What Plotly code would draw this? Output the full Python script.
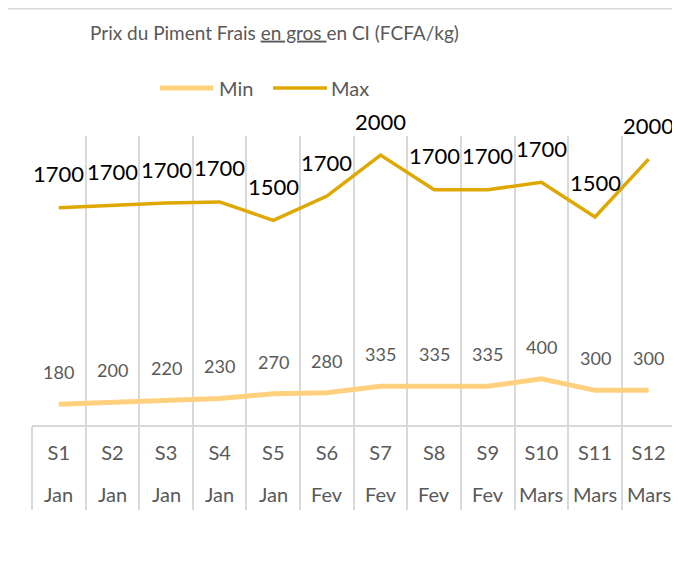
import plotly.graph_objects as go

# Données : prix du piment frais en gros (FCFA/kg), par semaine
semaines = ["S1", "S2", "S3", "S4", "S5", "S6", "S7", "S8", "S9", "S10", "S11", "S12"]
mois = ["Jan", "Jan", "Jan", "Jan", "Jan", "Fev", "Fev", "Fev", "Fev", "Mars", "Mars", "Mars"]
prix_min = [180, 200, 220, 230, 270, 280, 335, 335, 335, 400, 300, 300]
prix_max = [1700, 1700, 1700, 1700, 1500, 1700, 2000, 1700, 1700, 1700, 1500, 2000]

couleur_min = "#FFD17F"
couleur_max = "#DFA800"
gris_texte = "#595959"
gris_ligne = "#D9D9D9"
police = "Lato"

# La page HTML ajoute une marge de 8 px autour de la figure
W, H = 672, 561
L, R, T, B = 24, 4, 128, 144
PW, PH = W - L - R, H - T - B


def px_x(px):
    # pixel horizontal de la figure -> coordonnée "paper"
    return (px - L) / PW


def px_y(py):
    # pixel vertical de la figure -> coordonnée "paper"
    return 1 + (T - py) / PH


x = list(range(1, len(semaines) + 1))

fig = go.Figure()

# Courbes empilées (comme le graphique Excel d'origine)
fig.add_trace(
    go.Scatter(
        x=x, y=prix_min, name="Min", mode="lines",
        stackgroup="prix", fill="none",
        line=dict(color=couleur_min, width=5),
    )
)
fig.add_trace(
    go.Scatter(
        x=x, y=prix_max, name="Max", mode="lines",
        stackgroup="prix", fill="none",
        line=dict(color=couleur_max, width=3.5),
    )
)

# Étiquettes de données
cumul = [a + b for a, b in zip(prix_min, prix_max)]
for xi, v, c in zip(x, prix_max, cumul):
    fig.add_annotation(
        x=xi, y=c, text=str(v), showarrow=False, yshift=34, yanchor="middle",
        font=dict(size=22, color="black", family=police),
    )
for xi, v in zip(x, prix_min):
    fig.add_annotation(
        x=xi, y=v, text=str(v), showarrow=False, yshift=32, yanchor="middle",
        font=dict(size=18, color=gris_texte, family=police),
    )

# Deuxième niveau de l'axe : les mois
for xi, m in zip(x, mois):
    fig.add_annotation(
        x=xi, y=0, yref="paper", text=m, showarrow=False,
        yshift=-69, yanchor="middle",
        font=dict(size=20, color=gris_texte, family=police),
    )

# Légende dessinée à la main (traits longs comme dans Excel)
for nom, couleur, largeur, x0, x1, xt in [
    ("Min", couleur_min, 5, 152, 205, 209),
    ("Max", couleur_max, 3.5, 265, 319, 321),
]:
    fig.add_shape(
        type="line", xref="paper", yref="paper",
        x0=px_x(x0), x1=px_x(x1), y0=px_y(80), y1=px_y(80),
        line=dict(color=couleur, width=largeur),
    )
    fig.add_annotation(
        x=px_x(xt), y=px_y(80), xref="paper", yref="paper", text=nom,
        showarrow=False, xanchor="left", yanchor="middle",
        font=dict(size=20, color=gris_texte, family=police),
    )

# Cadre de la zone de graphique (seul le bord haut est visible)
fig.add_shape(
    type="rect", xref="paper", yref="paper",
    x0=px_x(-1), x1=px_x(W + 10), y0=px_y(H + 10), y1=px_y(0.75),
    line=dict(color=gris_ligne, width=1.5), layer="below",
)

fig.update_xaxes(
    range=[0.5, 12.51],
    tickmode="array",
    tickvals=x,
    ticktext=semaines,
    ticks="",
    showgrid=False,
    zeroline=False,
    showline=True,
    linecolor=gris_ligne,
    linewidth=1.5,
    tickfont=dict(size=20, color=gris_texte, family=police),
    ticklabelstandoff=9,
    minor=dict(
        tickmode="array",
        tickvals=[i + 0.5 for i in range(len(semaines) + 1)],
        ticks="outside",
        ticklen=83,
        tickwidth=1.5,
        tickcolor=gris_ligne,
        showgrid=True,
        gridcolor=gris_ligne,
        gridwidth=1.5,
    ),
)
fig.update_yaxes(range=[0, 2500], visible=False, showgrid=False, zeroline=False)

fig.update_layout(
    width=W,
    height=H,
    margin=dict(l=L, r=R, t=T, b=B),
    paper_bgcolor="white",
    plot_bgcolor="white",
    font=dict(family=police, color=gris_texte),
    title=dict(
        text="Prix du Piment Frais <u>en gros </u>en CI (FCFA/kg)",
        xref="container", x=82 / W, xanchor="left",
        yref="container", y=1 - 25 / H, yanchor="middle",
        font=dict(size=19, color=gris_texte, family=police),
    ),
    showlegend=False,
)

fig.write_html("out.html")
